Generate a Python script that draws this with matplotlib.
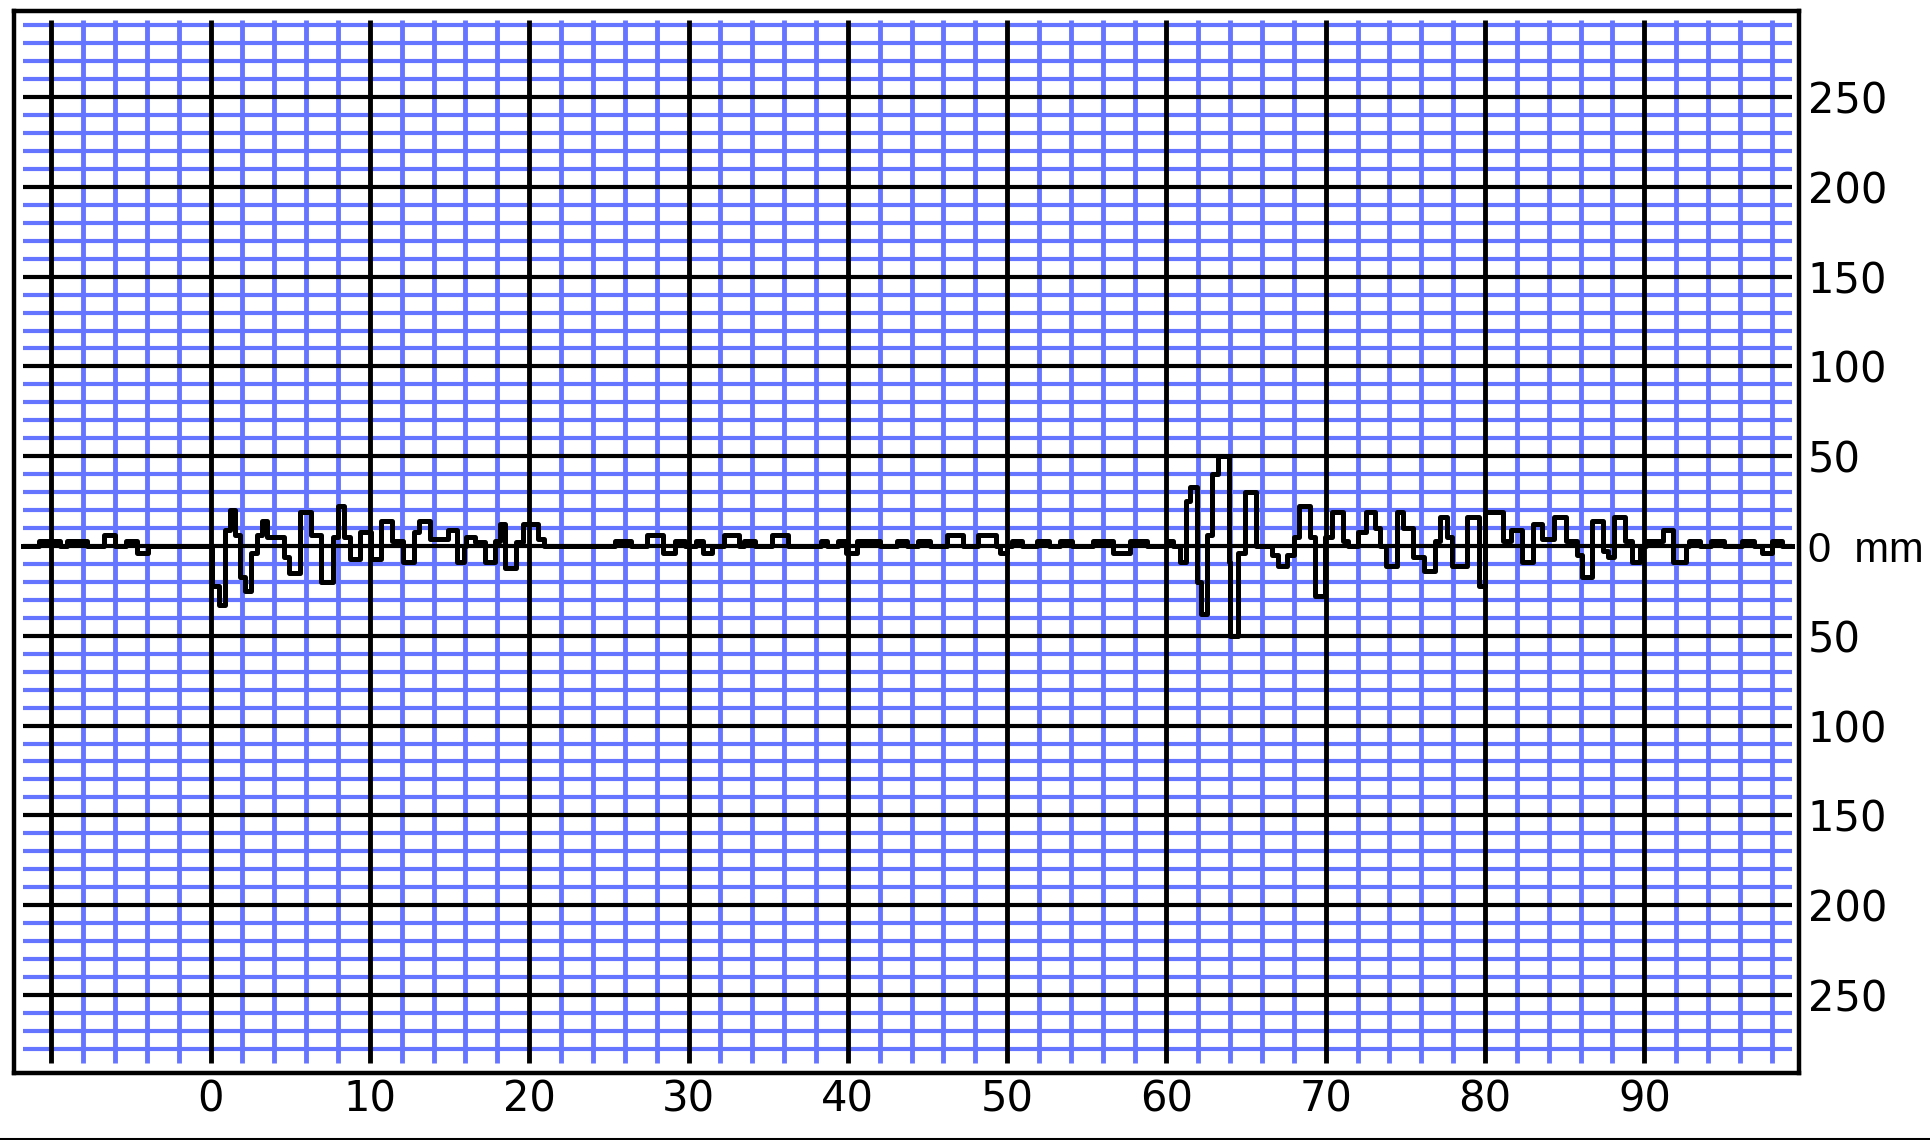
import numpy as np
import matplotlib.pyplot as plt
from matplotlib.lines import Line2D

# trace (steps: value holds until next x)
trace_x = [-11.8, -10.8, -9.45, -9.0, -7.75, -6.7, -6.0, -5.3, -4.6, -3.9,
           0.1, 0.55, 0.9, 1.2, 1.55, 1.85, 2.15, 2.55, 2.9, 3.2, 3.55, 4.6, 4.95,
           5.6, 6.3, 6.95, 7.7, 8.0, 8.35, 8.75, 9.4, 10.1, 10.7, 11.4, 12.05, 12.75,
           13.1, 13.75, 14.9, 15.45, 15.9, 16.05, 16.6, 17.2, 17.85, 18.15, 18.5,
           19.2, 19.6, 20.55, 20.9,
           25.4, 26.4, 27.4, 28.4, 29.15, 29.8, 30.5, 30.9, 31.5, 32.2, 33.2, 33.5,
           34.2, 35.25, 36.25, 38.3, 38.7, 39.4, 39.9, 40.6, 42.0, 43.1, 43.7, 44.4,
           45.15, 46.2, 47.2, 48.2, 49.3, 49.55, 50.0, 50.3, 50.95, 51.9, 52.6, 53.3,
           54.1, 55.4, 56.65, 57.7, 58.8, 60.05, 60.4,
           60.85, 61.2, 61.5, 61.9, 62.2, 62.55, 62.85, 63.25, 63.9, 64.0, 64.5,
           64.95, 65.6, 66.6, 67.0, 67.6, 68.0, 68.3, 69.0, 69.35, 69.95, 70.4, 71.1,
           71.4, 72.05, 72.5, 73.1, 73.4, 73.8, 74.45, 74.85, 75.5, 76.2, 76.85,
           77.15, 77.6, 77.9, 78.85, 79.6, 80.0, 81.1, 81.6, 82.3, 83.0, 83.6, 84.3,
           85.1, 85.75, 86.1, 86.7, 87.4, 87.7, 88.1, 88.8, 89.2, 89.7, 90.1, 91.2,
           91.8, 92.6, 92.8, 93.5, 94.2, 95.0, 96.1, 96.9, 97.4, 98.0, 98.65, 99.3]
trace_y = [0, 3, 0, 3, 0, 6, 0, 3, -4, 0,
           -22, -33, 9, 20, 6, -17, -25, -4, 6, 14, 5, -6, -15,
           19, 6, -20, 5, 22, 5, -7, 8, -7, 14, 3, -9, 8,
           14, 4, 9, -9, 0, 5, 2, -9, 3, 12, -12,
           2, 12, 4, 0,
           3, 0, 6, -4, 3, 0, 3, -4, 0, 6, 0, 3,
           0, 6, 0, 3, 0, 3, -4, 3, 0, 3, 0, 3,
           0, 6, 0, 6, 0, -4, 0, 3, 0, 3, 0, 3,
           0, 3, -4, 3, 0, 3, 0,
           -9, 25, 33, -20, -38, 6, 40, 50, -9, -50, -4,
           30, 0, -5, -11, -5, 5, 22, 5, -28, 5, 19, 3,
           0, 8, 19, 10, 0, -11, 19, 10, -6, -14, 3,
           16, 5, -11, 16, -22, 19, 3, 9, -9, 12, 4, 16,
           3, -5, -17, 14, -3, -6, 16, 3, -9, 0, 3, 9,
           -9, 0, 3, 0, 3, 0, 3, 0, -4, 3, 0, 0]

x_ticks = [0, 10, 20, 30, 40, 50, 60, 70, 80, 90]
x_labels = ["0", "10", "20", "30", "40", "50", "60", "70", "80", "90"]
y_ticks = [250, 200, 150, 100, 50, 0, -50, -100, -150, -200, -250]
y_labels = ["250", "200", "150", "100", "50", "0  mm", "50", "100", "150", "200", "250"]

BLUE = "#6675ff"

fig = plt.figure(figsize=(19.31, 11.40), dpi=100)
ax = fig.add_axes([0.0075, 0.0592, 0.9244, 0.9311])
ax.set_xlim(-12.31, 99.74)
ax.set_ylim(-293.2, 297.9)

# chart-paper grid: blue minor lines, black major lines
x_minor = [v for v in np.arange(-8, 99, 2) if v % 10 != 0]
y_minor = [v for v in np.arange(-280, 291, 10) if v % 50 != 0]
x_major = np.arange(-10, 91, 10)
ax.vlines(x_minor, -288, 293, color=BLUE, lw=3.5, zorder=1)
ax.hlines(y_minor, -11.8, 99.3, color=BLUE, lw=3.0, zorder=1)
ax.vlines(x_major, -288, 293, color="black", lw=3.5, zorder=2)
ax.hlines(y_ticks, -11.8, 99.3, color="black", lw=3.0, zorder=2)

ax.plot(trace_x, trace_y, drawstyle="steps-post", color="black", lw=3.6, zorder=3)

ax.set_xticks(x_ticks, x_labels)
ax.yaxis.tick_right()
ax.set_yticks(y_ticks, y_labels)
ax.tick_params(axis="x", length=0, pad=4, labelsize=30)
ax.tick_params(axis="y", length=0, pad=6, labelsize=30)
# the unit label is narrower in the original
ax.get_yticklabels()[5].set_fontfamily("Liberation Sans")
for s in ax.spines.values():
    s.set_linewidth(3.2)

# rule along the bottom edge of the picture
fig.add_artist(Line2D([0, 1], [0.0013, 0.0013], color="black", lw=2.2))

fig.savefig("out.png", dpi=100)
